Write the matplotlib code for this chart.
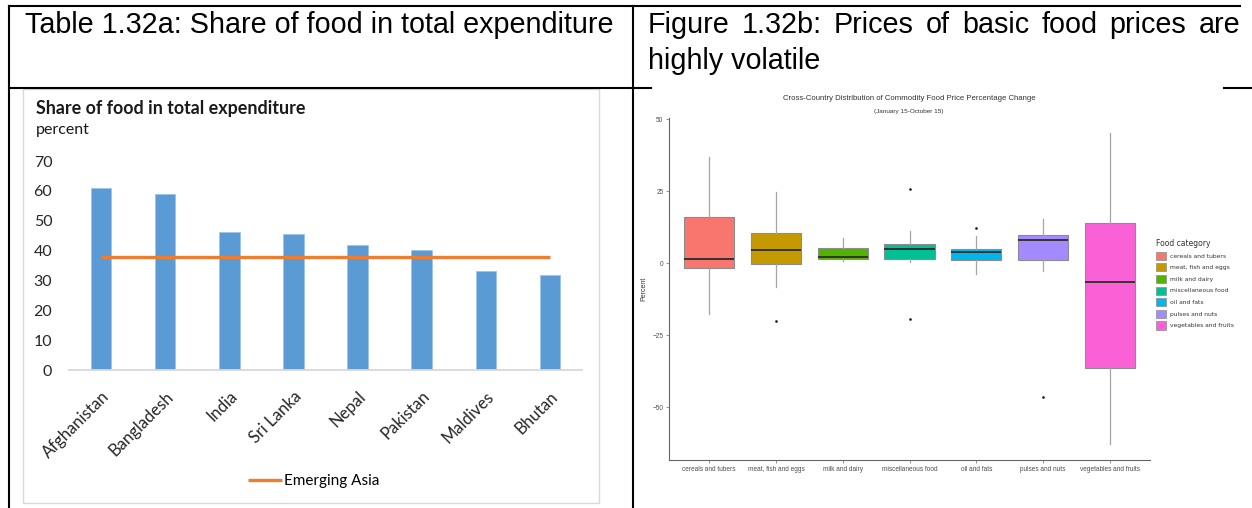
import matplotlib
matplotlib.use('Agg')
import matplotlib.pyplot as plt
from matplotlib.patches import Patch, Rectangle
from matplotlib.lines import Line2D

W, H = 1252, 508

# left panel: share of food in total expenditure (percent)
countries = ['Afghanistan', 'Bangladesh', 'India', 'Sri Lanka', 'Nepal', 'Pakistan', 'Maldives', 'Bhutan']
food_share = [60.9, 58.8, 46.2, 45.4, 42.0, 40.3, 33.3, 31.8]
emerging_asia = 37.9

# right panel: box plot summaries of price change (percent)
food_cats = ['cereals and tubers', 'meat, fish and eggs', 'milk and dairy', 'miscellaneous food',
             'oil and fats', 'pulses and nuts', 'vegetables and fruits']
q1 = [-1.7, -0.3, 1.4, 1.4, 1.0, 1.0, -36.5]
med = [1.4, 4.5, 2.1, 4.9, 3.8, 8.0, -6.6]
q3 = [16.0, 10.4, 5.2, 6.6, 4.9, 9.7, 13.9]
whis_lo = [-17.7, -8.3, 0.7, 0.4, -3.8, -2.8, -62.8]
whis_hi = [36.8, 24.7, 8.7, 11.0, 9.4, 15.3, 45.1]
outliers = [[], [-20.0], [], [25.6, -19.4], [12.2], [-46.5], []]
cat_colors = ['#F8766D', '#C49A00', '#53B400', '#00C094', '#00B6EB', '#A58AFF', '#FB61D7']

ARIAL = ['Liberation Sans', 'DejaVu Sans']
CALIBRI = ['Lato', 'DejaVu Sans']


def fx(x):
    return x / W


def fy(y):
    return 1 - y / H


fig = plt.figure(figsize=(W / 100, H / 100), dpi=100)


def hline(y, x0, x1):
    fig.add_artist(Line2D([fx(x0), fx(x1)], [fy(y), fy(y)], transform=fig.transFigure,
                          color='black', lw=1.5))


def vline(x, y0, y1):
    fig.add_artist(Line2D([fx(x), fx(x)], [fy(y0), fy(y1)], transform=fig.transFigure,
                          color='black', lw=1.5))


# table borders
hline(6, 9, 1240)
hline(88, 9, 651)
hline(88, 1224, 1252)
vline(9, 6, 508)
vline(633, 6, 508)

# table headers
fig.text(fx(25), fy(33), 'Table 1.32a: Share of food in total expenditure', fontsize=20.7,
         family=ARIAL, va='baseline')

renderer = fig.canvas.get_renderer()
words = 'Figure 1.32b: Prices of basic food prices are'.split()
wtexts = [fig.text(0, fy(33), w, fontsize=20.7, family=ARIAL, va='baseline') for w in words]
widths = [t.get_window_extent(renderer).width for t in wtexts]
gap = (1240 - 648 - sum(widths)) / (len(words) - 1)
xpos = 648
for t, w in zip(wtexts, widths):
    t.set_x(fx(xpos))
    xpos += w + gap
fig.text(fx(648), fy(69), 'highly volatile', fontsize=20.7, family=ARIAL, va='baseline')

# ---- left chart (Excel style) ----
fig.add_artist(Rectangle((fx(23), fy(503)), (599 - 23) / W, (503 - 89) / H,
                         transform=fig.transFigure, fill=False, ec='#d9d9d9', lw=1))
fig.text(fx(36), fy(114), 'Share of food in total expenditure', fontsize=12.9,
         weight='bold', family=CALIBRI, va='baseline', color='#1a1a1a')
fig.text(fx(36), fy(134), 'percent', fontsize=11.5, family=CALIBRI, va='baseline', color='#1a1a1a')

ax1 = fig.add_axes([fx(69), fy(370), (582 - 69) / W, (370 - 161) / H])
x = range(len(countries))
ax1.bar(x, food_share, width=0.32, color='#5B9BD5', edgecolor='#9DC3E6', lw=0.6, zorder=2)
line, = ax1.plot(x, [emerging_asia] * len(countries), color='#ED7D31', lw=2.4,
                 solid_capstyle='butt', zorder=3, label='Emerging Asia')
ax1.set_xlim(-0.5, 7.5)
ax1.set_ylim(0, 70)
ax1.set_yticks(range(0, 71, 10))
for s in ['top', 'right', 'left']:
    ax1.spines[s].set_visible(False)
ax1.spines['bottom'].set_color('#d9d9d9')
ax1.spines['bottom'].set_linewidth(1.3)
ax1.tick_params(axis='y', length=0, pad=12, labelsize=11.5, labelcolor='#262626')
ax1.tick_params(axis='x', length=0, pad=13, labelsize=12, labelcolor='#262626')
ax1.set_xticks(list(x))
ax1.set_xticklabels(countries, rotation=45, ha='right', va='top', rotation_mode='anchor')
for lab in ax1.get_xticklabels() + ax1.get_yticklabels():
    lab.set_family(CALIBRI)
ax1.patch.set_alpha(0)

fig.legend(handles=[line], loc='center', bbox_to_anchor=(fx(314), fy(481)), frameon=False,
           prop={'family': CALIBRI, 'size': 11}, handlelength=2.2, handletextpad=0.15)

# ---- right chart (ggplot style) ----
fig.text(fx(909), fy(98), 'Cross-Country Distribution of Commodity Food Price Percentage Change',
         ha='center', va='center', fontsize=5.6, family=ARIAL, color='#333333')
fig.text(fx(909), fy(112), '(January 15-October 15)', ha='center', va='center',
         fontsize=4.6, family=ARIAL, color='#333333')

ax2 = fig.add_axes([fx(669), fy(460), (1150 - 669) / W, (460 - 117.6) / H])
stats = []
for i in range(len(food_cats)):
    stats.append(dict(med=med[i], q1=q1[i], q3=q3[i], whislo=whis_lo[i], whishi=whis_hi[i],
                      fliers=outliers[i]))
bp = ax2.bxp(stats, positions=range(1, len(food_cats) + 1), widths=0.75, patch_artist=True,
             showcaps=False,
             boxprops=dict(edgecolor='#8c8c8c', lw=0.8),
             medianprops=dict(color='#333333', lw=1.4),
             whiskerprops=dict(color='#a6a6a6', lw=0.9),
             flierprops=dict(marker='o', markersize=1.9, markerfacecolor='#1a1a1a',
                             markeredgecolor='none'))
for box, c in zip(bp['boxes'], cat_colors):
    box.set_facecolor(c)
ax2.set_xlim(0.4, 7.6)
ax2.set_ylim(-68.4, 50.5)
ax2.set_yticks([-50, -25, 0, 25, 50])
for s in ['top', 'right']:
    ax2.spines[s].set_visible(False)
for s in ['left', 'bottom']:
    ax2.spines[s].set_color('#666666')
    ax2.spines[s].set_linewidth(0.8)
ax2.tick_params(length=2, width=0.5, color='#666666', labelsize=4.7, labelcolor='#4d4d4d', pad=2)
ax2.set_xticks(range(1, len(food_cats) + 1))
ax2.set_xticklabels(food_cats)
for lab in ax2.get_xticklabels() + ax2.get_yticklabels():
    lab.set_family(ARIAL)
ax2.set_ylabel('Percent', fontsize=5, family=ARIAL, color='#333333', labelpad=4)

handles = [Patch(facecolor=c, edgecolor='#8c8c8c', lw=0.5) for c in cat_colors]
leg = fig.legend(handles, food_cats, loc='upper left', bbox_to_anchor=(fx(1153), fy(236)),
                 frameon=False, title='Food category', fontsize=4.3, title_fontsize=5.5,
                 handlelength=1.7, handleheight=1.7, labelspacing=0.6, handletextpad=0.6,
                 alignment='left', borderpad=0)
for t in leg.get_texts() + [leg.get_title()]:
    t.set_color('#333333')

fig.savefig('out.png', dpi=100)
